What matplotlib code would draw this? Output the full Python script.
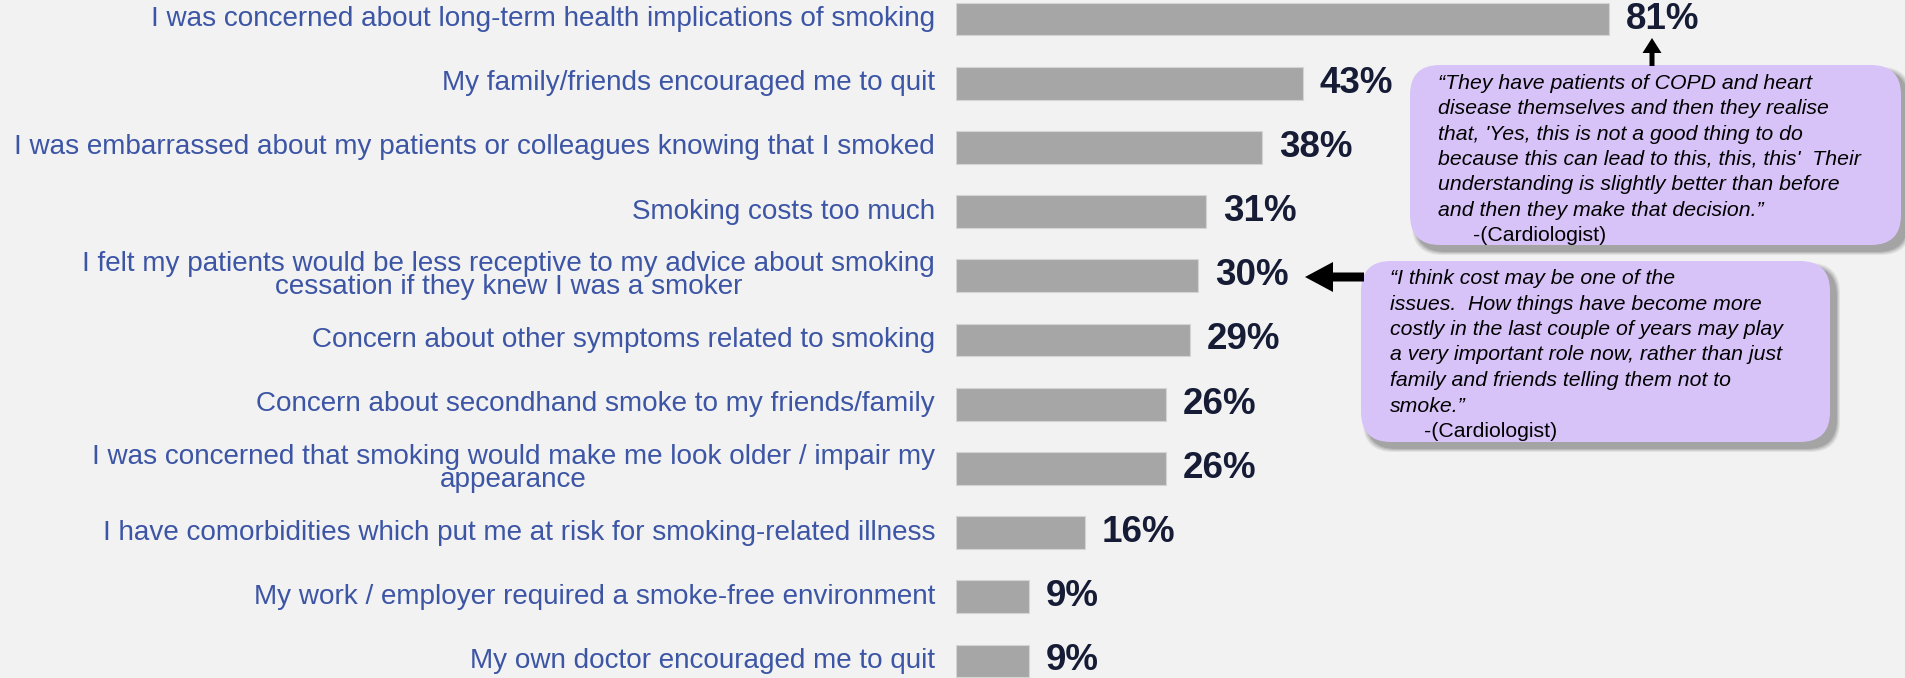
import matplotlib.pyplot as plt
from matplotlib.patches import FancyBboxPatch, FancyArrow

plt.rcParams['font.family'] = ['Liberation Sans', 'DejaVu Sans']

categories = [
    'I was concerned about long-term health implications of smoking',
    'My family/friends encouraged me to quit',
    'I was embarrassed about my patients or colleagues knowing that I smoked',
    'Smoking costs too much',
    'I felt my patients would be less receptive to my advice about smoking\ncessation if they knew I was a smoker',
    'Concern about other symptoms related to smoking',
    'Concern about secondhand smoke to my friends/family',
    'I was concerned that smoking would make me look older / impair my\nappearance',
    'I have comorbidities which put me at risk for smoking-related illness',
    'My work / employer required a smoke-free environment',
    'My own doctor encouraged me to quit',
]
values = [81, 43, 38, 31, 30, 29, 26, 26, 16, 9, 9]

quote_copd = [
    '\u201cThey have patients of COPD and heart',
    'disease themselves and then they realise',
    "that, 'Yes, this is not a good thing to do",
    "because this can lead to this, this, this'  Their",
    'understanding is slightly better than before',
    'and then they make that decision.\u201d',
]
quote_cost = [
    '\u201cI think cost may be one of the',
    'issues.  How things have become more',
    'costly in the last couple of years may play',
    'a very important role now, rather than just',
    'family and friends telling them not to',
    'smoke.\u201d',
]
source = '-(Cardiologist)'

BG = '#F2F2F2'
BAR = '#A6A6A6'
LABEL_BLUE = '#3C55A5'
VALUE_NAVY = '#161C35'
BUBBLE = '#D7C3F7'

W, H = 1905, 678
fig = plt.figure(figsize=(W / 100, H / 100), dpi=100, facecolor=BG)

# bar panel: 0-100% spans 806 px starting at x=956
ax = fig.add_axes([956 / W, 0, 806 / W, 1])
ax.set_facecolor('none')
rows = range(len(values))
ax.barh(rows, values, height=0.51, color=BAR, edgecolor='#D4D4D4', linewidth=0.8)
ax.set_xlim(0, 100)
ax.set_ylim(10.265, -0.296)
ax.axis('off')

for i, (lab, v) in enumerate(zip(categories, values)):
    ax.text(-2.6, i, lab, ha='right', va='center', fontsize=20.1, color=LABEL_BLUE,
            multialignment='center', linespacing=0.85, clip_on=False)
    ax.text(v + 2.1, i, f'{v}%', ha='left', va='center', fontsize=26.5,
            fontweight='bold', color=VALUE_NAVY, clip_on=False)

# overlay in pixel units for the quote bubbles
ov = fig.add_axes([0, 0, 1, 1], zorder=3)
ov.set_xlim(0, W)
ov.set_ylim(H, 0)
ov.axis('off')
ov.patch.set_alpha(0)


def bubble(x0, y0, x1, y1, r=30):
    # soft drop shadow, then the rounded box on top
    for k, a in enumerate([0.10, 0.12, 0.16, 0.22]):
        grow = 4 - k
        ov.add_patch(FancyBboxPatch((x0 + r + 6 - grow, y0 + r + 6 - grow),
                                    x1 - x0 - 2 * r + 2 * grow, y1 - y0 - 2 * r + 2 * grow,
                                    boxstyle=f'round,pad={r}', fc='#555555', ec='none',
                                    alpha=a))
    ov.add_patch(FancyBboxPatch((x0 + r, y0 + r), x1 - x0 - 2 * r, y1 - y0 - 2 * r,
                                boxstyle=f'round,pad={r}', fc=BUBBLE, ec='none'))


def quote(lines, x, y, x_src, step):
    for j, line in enumerate(lines):
        ov.text(x, y + j * step, line, fontsize=15.3, style='italic', color='black',
                va='baseline', ha='left')
    ov.text(x_src, y + len(lines) * step, source, fontsize=15.3, color='black',
            va='baseline', ha='left')


bubble(1410, 65, 1901, 245)
quote(quote_copd, 1438, 89, 1473, step=25.3)

bubble(1361, 261, 1830, 442)
quote(quote_cost, 1390, 284, 1424, step=25.5)

# arrows pointing from the bubbles to their bars
ov.add_patch(FancyArrow(1652, 66, 0, -28, width=5, head_width=19, head_length=15,
                        length_includes_head=True, fc='black', ec='none'))
ov.add_patch(FancyArrow(1364, 277, -59, 0, width=9, head_width=30, head_length=28,
                        length_includes_head=True, fc='black', ec='none'))

fig.savefig('out.png', dpi=100, facecolor=BG)
